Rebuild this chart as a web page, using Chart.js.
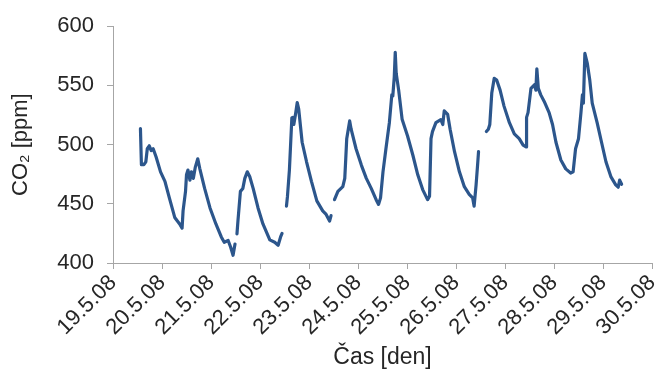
<!DOCTYPE html>
<html lang="cs">
<head>
    <meta charset="UTF-8">
    <title>CO2 [ppm]</title>
    <style>
        html, body { margin: 0; padding: 0; background: #fff; }
        #wrap { width: 657px; height: 372px; }
    </style>
</head>
<body>
    <div id="wrap"><canvas id="co2Chart" width="657" height="372"></canvas></div>

    <script src="https://cdn.jsdelivr.net/npm/chart.js"></script>
    <script>
        // popisky osy x (dny 19.5. - 30.5.2008)
        const dayTicks = [19, 20, 21, 22, 23, 24, 25, 26, 27, 28, 29, 30];
        const dayLabels = ['19.5.08', '20.5.08', '21.5.08', '22.5.08', '23.5.08', '24.5.08',
                           '25.5.08', '26.5.08', '27.5.08', '28.5.08', '29.5.08', '30.5.08'];
        const yTicks = [400, 450, 500, 550, 600];

        // cas v dnech (den v kvetnu + zlomek dne), null = vypadek mereni
        const timeDays = [
            19.56, 19.58, 19.63, 19.67, 19.70, 19.74, 19.78, 19.82, 19.88, 19.97, 20.06, 20.15,
            20.26, 20.36, 20.41, 20.43, 20.48, 20.50, 20.53, 20.57, 20.60, 20.64, 20.68, 20.73,
            20.77, 20.87, 20.98, 21.10, 21.21, 21.27, 21.35, 21.40, 21.45, 21.49,
            21.51,
            21.53, 21.55, 21.60, 21.65, 21.69, 21.74, 21.79, 21.86, 21.96, 22.06, 22.20, 22.30,
            22.37, 22.42, 22.45,
            22.50,
            22.54, 22.56, 22.60, 22.65, 22.67, 22.69, 22.73, 22.76, 22.79, 22.86, 22.95, 23.05,
            23.16, 23.28, 23.35, 23.42, 23.45,
            23.48,
            23.52, 23.59, 23.69, 23.73, 23.75, 23.77, 23.83, 23.86, 23.96, 24.07, 24.17, 24.27,
            24.37, 24.42, 24.46, 24.51, 24.57, 24.64, 24.69, 24.71, 24.74, 24.76, 24.78, 24.83,
            24.90, 25.01, 25.12, 25.22, 25.32, 25.42, 25.46, 25.49, 25.52, 25.59, 25.69, 25.73,
            25.76, 25.83, 25.88, 25.97, 26.07, 26.17, 26.27, 26.34, 26.37, 26.41, 26.44, 26.46,
            26.54,
            26.62, 26.66, 26.69, 26.73, 26.78, 26.83, 26.90, 26.98, 27.09, 27.19, 27.29, 27.37,
            27.43, 27.44, 27.47, 27.53, 27.60, 27.63, 27.65, 27.68, 27.73, 27.80, 27.90, 27.97,
            28.04, 28.14, 28.24, 28.34, 28.39, 28.44, 28.50, 28.55, 28.58, 28.60, 28.63, 28.68,
            28.73, 28.78, 28.88, 28.97, 29.06, 29.16, 29.26, 29.31, 29.34, 29.38
        ];
        const co2Ppm = [
            513.5, 483, 483, 485.5, 496.5, 499, 495, 496.5, 489.5, 477, 469, 455,
            438.5, 433, 429.5, 444, 460.5, 474.5, 478.5, 470, 477, 471.5, 481, 488,
            480, 463, 446.5, 433, 422, 417.5, 419, 413.5, 406.5, 416,
            null,
            424.5, 435.5, 460.5, 463, 471.5, 477, 473, 463, 446.5, 433, 419.5, 417.5,
            415, 422, 425,
            null,
            448, 456, 478.5, 522.5, 523, 517, 527, 535.5, 530, 502, 485.5, 469,
            452.5, 444, 441, 435.5, 440,
            null,
            453.5, 460.5, 464.5, 471.5, 488, 505, 520, 513, 496.5, 482.5, 471.5, 463,
            453.5, 449.5, 455, 477, 496.5, 518.5, 542, 541, 557, 578, 560, 546,
            521.5, 507.5, 491, 474.5, 462, 453.5, 456.5, 505, 511, 518.5, 521, 517,
            528.5, 525.5, 513, 494, 477, 464.5, 458, 455, 448, 466, 482.5, 494,
            null,
            511, 513, 517, 543.5, 556, 554.5, 546, 532.5, 518.5, 509, 505, 499.5,
            498, 523, 527, 547.5, 550.5, 546, 564, 547.5, 542, 536.5, 527, 517,
            502, 487, 479.5, 476, 477, 496.5, 505, 527, 542, 535, 577, 568.5,
            554.5, 535, 518.5, 502, 485.5, 473, 466, 464, 470, 466.5
        ];

        const points = timeDays.map((d, i) => ({ x: d, y: co2Ppm[i] }));

        const axisColor = '#a6a6a6';
        const textColor = '#262626';
        const font = { family: 'Liberation Sans, Arial, sans-serif', size: 22 };
        const titleFont = { family: 'Liberation Sans, Arial, sans-serif', size: 23 };

        new Chart(document.getElementById('co2Chart').getContext('2d'), {
            type: 'line',
            data: {
                datasets: [{
                    label: 'CO2',
                    data: points,
                    borderColor: '#2c568c',
                    borderWidth: 3.2,
                    borderJoinStyle: 'round',
                    borderCapStyle: 'round',
                    pointRadius: 0,
                    tension: 0,
                    spanGaps: false,
                    fill: false
                }]
            },
            options: {
                responsive: false,
                animation: false,
                layout: { padding: { top: 12, right: 5, left: 0, bottom: 0 } },
                plugins: {
                    legend: { display: false },
                    tooltip: { enabled: false }
                },
                scales: {
                    x: {
                        type: 'linear',
                        min: dayTicks[0],
                        max: dayTicks[dayTicks.length - 1],
                        afterBuildTicks: s => { s.ticks = dayTicks.map(v => ({ value: v })); },
                        afterFit: s => { s.height = 109; s.paddingRight = 0; },
                        ticks: {
                            autoSkip: false,
                            minRotation: 45,
                            maxRotation: 45,
                            padding: 1,
                            color: textColor,
                            font: font,
                            callback: v => dayLabels[dayTicks.indexOf(v)]
                        },
                        grid: {
                            drawOnChartArea: false,
                            color: axisColor,
                            tickLength: 6
                        },
                        border: { color: axisColor, width: 1 },
                        title: {
                            display: true,
                            text: 'Čas [den]',
                            color: textColor,
                            font: titleFont,
                            padding: { top: 0, bottom: 1 }
                        }
                    },
                    y: {
                        min: yTicks[0],
                        max: yTicks[yTicks.length - 1],
                        afterBuildTicks: s => { s.ticks = yTicks.map(v => ({ value: v })); },
                        afterFit: s => { s.width = 113; },
                        ticks: {
                            padding: 13,
                            color: textColor,
                            font: font
                        },
                        grid: {
                            drawOnChartArea: false,
                            color: axisColor,
                            tickLength: 6
                        },
                        border: { color: axisColor, width: 1 },
                        title: {
                            display: true,
                            text: 'CO₂ [ppm]',
                            color: textColor,
                            font: font,
                            padding: { top: 8, bottom: 0 }
                        }
                    }
                }
            }
        });
    </script>
</body>
</html>
